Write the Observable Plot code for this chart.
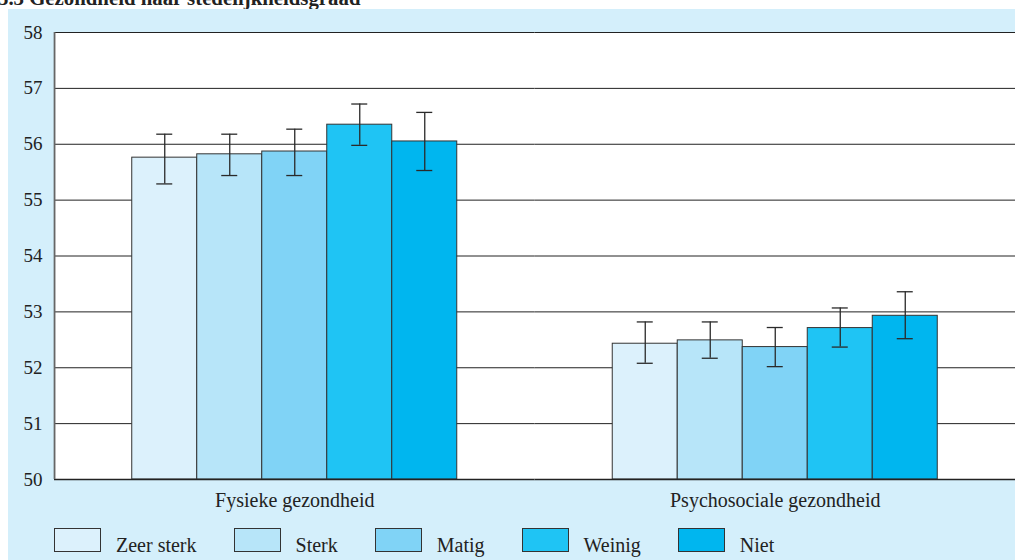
<!DOCTYPE html>
<html>
<head>
<meta charset="utf-8">
<script src="https://cdn.jsdelivr.net/npm/d3@7"></script>
<script src="https://cdn.jsdelivr.net/npm/@observablehq/plot@0.6"></script>
<style>
  html, body { margin: 0; padding: 0; background: #ffffff; width: 1015px; height: 560px; overflow: hidden; font-family: "Liberation Serif", serif; }
  #title { position: absolute; left: -2px; top: -12.5px; font-weight: bold; font-size: 20.8px; line-height: 20px; color: #222; white-space: nowrap; }
  #panel { position: absolute; left: 8px; top: 9px; right: 0; bottom: 0; background: #d4effb; }
  #chart { position: absolute; left: 0; top: 9px; }
  #legend { position: absolute; left: 54px; top: 528px; display: flex; align-items: flex-end; font-size: 20px; color: #222; }
  .box { width: 45px; height: 22px; border: 1px solid #333; margin-right: 15px; }
  .lab { margin-right: 37px; line-height: 20px; margin-bottom: -3px; }
</style>
</head>
<body>
<div id="title">5.3 Gezondheid naar stedelijkheidsgraad</div>
<div id="panel"></div>
<div id="chart"></div>
<div id="legend"></div>
<script>
const groups = ["Fysieke gezondheid", "Psychosociale gezondheid"];
const categories = ["Zeer sterk", "Sterk", "Matig", "Weinig", "Niet"];
const colors = ["#dcf1fc", "#b7e5f9", "#80d3f6", "#1fc4f4", "#00b6ef"];
const yTicks = [50, 51, 52, 53, 54, 55, 56, 57, 58];

const fysiekeMean = [55.76, 55.82, 55.87, 56.35, 56.05];
const fysiekeLow  = [55.29, 55.44, 55.44, 55.98, 55.53];
const fysiekeHigh = [56.18, 56.18, 56.27, 56.72, 56.57];

const psychoMean = [52.43, 52.49, 52.37, 52.71, 52.93];
const psychoLow  = [52.08, 52.17, 52.02, 52.37, 52.52];
const psychoHigh = [52.82, 52.82, 52.72, 53.07, 53.36];

const rows = [];
categories.forEach((c, i) => rows.push({group: groups[0], cat: c, mean: fysiekeMean[i], low: fysiekeLow[i], high: fysiekeHigh[i]}));
categories.forEach((c, i) => rows.push({group: groups[1], cat: c, mean: psychoMean[i], low: psychoLow[i], high: psychoHigh[i]}));

const plot = Plot.plot({
  width: 1015,
  height: 491,
  marginLeft: 54,
  marginRight: 0,
  marginTop: 23,
  marginBottom: 21,
  facet: {marginLeft: 0, marginRight: 0, marginTop: 0, marginBottom: 0},
  fx: {domain: groups, padding: 0, round: false, axis: "bottom", label: null, tickSize: 0, tickPadding: 13},
  x: {domain: categories, axis: null, round: false, paddingInner: 0, paddingOuter: 1.196},
  y: {domain: [50, 58], ticks: yTicks, tickSize: 0, tickPadding: 12, label: null},
  color: {domain: categories, range: colors},
  style: {fontFamily: "Liberation Serif, serif", fontSize: "19px", background: "transparent", color: "#222", overflow: "visible"},
  marks: [
    Plot.frame({fill: "white", stroke: null}),
    Plot.ruleY(yTicks.slice(1), {stroke: "#222", strokeWidth: 1}),
    Plot.barY(rows, {fx: "group", x: "cat", y1: 50, y2: "mean", fill: "cat", stroke: "#333", strokeWidth: 1}),
    Plot.ruleX(rows, {fx: "group", x: "cat", y1: "low", y2: "high", stroke: "#2a2a2a", strokeWidth: 1.3}),
    Plot.tickY(rows, {fx: "group", x: "cat", y: "low", stroke: "#2a2a2a", strokeWidth: 1.3, insetLeft: 24.5, insetRight: 24.5}),
    Plot.tickY(rows, {fx: "group", x: "cat", y: "high", stroke: "#2a2a2a", strokeWidth: 1.3, insetLeft: 24.5, insetRight: 24.5}),
    Plot.ruleY([50], {stroke: "#222", strokeWidth: 1.5}),
    Plot.ruleX([{group: groups[0], cat: categories[0]}], {fx: "group", x: "cat", y1: 50, y2: 58, dx: -110.2, stroke: "#666", strokeWidth: 1.8})
  ]
});
document.getElementById("chart").appendChild(plot);
plot.querySelectorAll("g[aria-label='fx-axis tick label'] text, g[aria-label='fx-axis'] text").forEach(t => t.setAttribute("font-size", "20px"));

const legend = document.getElementById("legend");
categories.forEach((c, i) => {
  const b = document.createElement("div");
  b.className = "box";
  b.style.background = colors[i];
  const t = document.createElement("div");
  t.className = "lab";
  t.textContent = c;
  legend.appendChild(b);
  legend.appendChild(t);
});
</script>
</body>
</html>
